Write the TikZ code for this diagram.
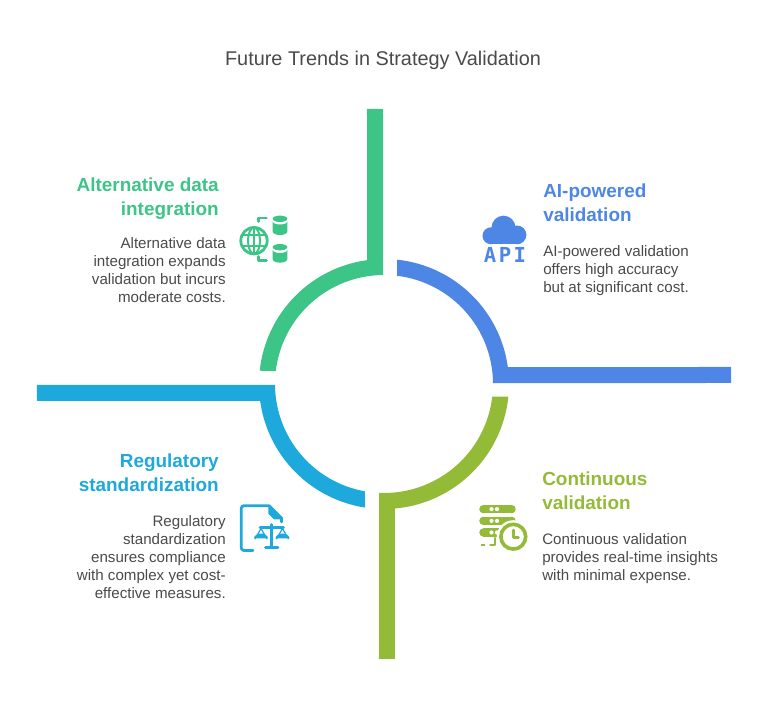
\documentclass[tikz,border=0pt]{standalone}
\usepackage{fontspec}
\setmainfont{Liberation Sans}
\newfontfamily\apifont[LetterSpace=12]{DejaVu Sans Mono}

\definecolor{bandgreen}{HTML}{3DC587}
\definecolor{bandblue}{HTML}{4D86E5}
\definecolor{bandsky}{HTML}{1DA9DB}
\definecolor{bandlime}{HTML}{94BB37}
\definecolor{bodygrey}{HTML}{4A4A4A}

\tikzset{
    headtext/.style={font=\bfseries\fontsize{14.2pt}{18pt}\selectfont, inner sep=0pt},
    bodytext/.style={font=\fontsize{11.35pt}{13.5pt}\selectfont, text=bodygrey, inner sep=0pt},
    stroked/.style={line width=2.1pt, line cap=round, line join=round, fill=none},
    thinstroked/.style={line width=1.5pt, line cap=round, line join=round, fill=none}
}

\begin{document}
\begin{tikzpicture}[x=0.75pt, y=0.75pt]
    \useasboundingbox (-384,-336) rectangle (384,384);

    % Title
    \node[font=\fontsize{14.9pt}{18pt}\selectfont, text=bodygrey, inner sep=0pt] (title) at (-1,323.5) {Future Trends in Strategy Validation};

    %% Four bands around the centre
    % Green band
    \fill[bandgreen] (-17,275) -- (97.8:125) arc[start angle=97.8, end angle=173.9, radius=125]
    -- (173.15:109) arc[start angle=173.15, end angle=90.5, radius=109] -- (-1,275) -- cycle;

    % Blue band
    \fill[bandblue] (84:125) arc[start angle=84, end angle=7.8, radius=125] -- (347,17) -- (347,1)
    -- (0.5:109) arc[start angle=0.5, end angle=83.15, radius=109] -- cycle;

    % Sky band
    \fill[bandsky] (-347,-1) -- (180.5:109) arc[start angle=180.5, end angle=259.96, radius=109]
    -- (261.26:125) arc[start angle=261.26, end angle=187.8, radius=125] -- (-347,-17) -- cycle;

    % Lime band
    \fill[bandlime] (-5,-275) -- (267.4:109) arc[start angle=267.4, end angle=353.3, radius=109]
    -- (-5.8:125) arc[start angle=-5.8, end angle=-85, radius=125] -- (11,-275) -- cycle;

    %% Texts
    % Green quadrant
    \node[headtext, text=bandgreen, anchor=east, align=right] (greenhead) at (-165,185) {Alternative data\\integration};
    \node[bodytext, anchor=east, align=right] (greenbody) at (-158,114) {Alternative data\\integration expands\\validation but incurs\\moderate costs.};

    % Blue quadrant
    \node[headtext, text=bandblue, anchor=west, align=left] (bluehead) at (159,181) {AI-powered\\validation};
    \node[bodytext, anchor=west, align=left] (bluebody) at (159,113) {AI-powered validation\\offers high accuracy\\but at significant cost.};

    % Sky quadrant
    \node[headtext, text=bandsky, anchor=east, align=right] (skyhead) at (-165,-89) {Regulatory\\standardization};
    \node[bodytext, anchor=east, align=right] (skybody) at (-158,-173) {Regulatory\\standardization\\ensures compliance\\with complex yet cost-\\effective measures.};

    % Lime quadrant
    \node[headtext, text=bandlime, anchor=west, align=left] (limehead) at (158,-107) {Continuous\\validation};
    \node[bodytext, anchor=west, align=left] (limebody) at (158,-175) {Continuous validation\\provides real-time insights\\with minimal expense.};

    %% Icons
    % Globe and databases
    \begin{scope}[shift={(-154,184)}, yscale=-1]
        \draw[bandgreen, stroked] (24,40.7) circle (13.2);
        \draw[bandgreen, thinstroked] (24,40.7) ellipse (6 and 13.2);
        \draw[bandgreen, thinstroked] (24,27.5) -- (24,53.9);
        \draw[bandgreen, thinstroked] (12,35) -- (36,35);
        \draw[bandgreen, thinstroked] (12,46.4) -- (36,46.4);
        \draw[bandgreen, stroked] (28.5,21.5) -- (28.5,18) -- (36.5,18);
        \draw[bandgreen, stroked] (28.5,56.5) -- (28.5,60.5) -- (36.5,60.5);
        \fill[bandgreen] (50,18.8) ellipse (7.3 and 3.2);
        \fill[bandgreen] (42.7,21.5) -- (42.7,31.5) arc[start angle=180, end angle=360, x radius=7.3, y radius=-3.5] -- (57.3,21.5) arc[start angle=0, end angle=180, x radius=7.3, y radius=3] -- cycle;
        \fill[bandgreen] (50,47.2) ellipse (7.3 and 3.2);
        \fill[bandgreen] (42.7,50) -- (42.7,59.2) arc[start angle=180, end angle=360, x radius=7.3, y radius=-3.5] -- (57.3,50) arc[start angle=0, end angle=180, x radius=7.3, y radius=3] -- cycle;
    \end{scope}

    % Cloud
    \begin{scope}[shift={(86,179)}, yscale=-1]
        \fill[bandblue] (21,30.8) circle (8.5);
        \fill[bandblue] (33.5,22.7) circle (12);
        \fill[bandblue] (47,29.9) circle (9.4);
        \fill[bandblue] (21,28) rectangle (47,39.3);
    \end{scope}
    \node[font=\apifont\bfseries\fontsize{15.5pt}{16pt}\selectfont, text=bandblue, inner sep=0pt] (apilabel) at (121,129) {API};

    % Document with scales
    \begin{scope}[shift={(-154,-111)}, yscale=-1]
        \draw[bandsky, stroked] (23,55.5) -- (14,55.5) arc[start angle=270, end angle=180, x radius=2.8, y radius=-2.8] -- (11.2,13.5) arc[start angle=180, end angle=90, x radius=2.8, y radius=-2.8] -- (39,10.7) -- (51.5,23) -- (51.5,27);
        \fill[bandsky] (38.5,10.5) -- (52.5,24.5) -- (44,24.5) -- (38.5,19) -- cycle;
        \draw[bandsky, stroked] (41.7,29.5) -- (41.7,52.5);
        \draw[bandsky, stroked] (30,32.5) -- (53.5,32.5);
        \draw[bandsky, stroked] (35.5,52.5) -- (48,52.5);
        \draw[bandsky, line width=0.9pt, line join=round] (25,44) -- (31,33.5) -- (37,44);
        \draw[bandsky, line width=0.9pt, line join=round] (46.5,44) -- (52.5,33.5) -- (58.5,44);
        \fill[bandsky] (24,43.5) -- (38,43.5) arc[start angle=0, end angle=180, x radius=7, y radius=-5] -- cycle;
        \fill[bandsky] (45.5,43.5) -- (59.5,43.5) arc[start angle=0, end angle=180, x radius=7, y radius=-5] -- cycle;
    \end{scope}

    % Servers with clock
    \begin{scope}[shift={(86,-111)}, yscale=-1]
        \fill[bandlime] (13.4,10) rectangle (41.6,18.3);
        \fill[bandlime] (13.4,14.15) circle (4.15);
        \fill[bandlime] (41.6,14.15) circle (4.15);
        \fill[bandlime] (13.4,21.7) rectangle (41.6,30);
        \fill[bandlime] (13.4,25.85) circle (4.15);
        \fill[bandlime] (41.6,25.85) circle (4.15);
        \fill[bandlime] (13.4,33.3) rectangle (31,41.7);
        \fill[bandlime] (13.4,37.5) circle (4.15);
        \foreach \rowy in {14.15,25.85,37.5} {
            \fill[white] (21.5,\rowy) circle (2.1);
            \fill[white] (27,\rowy) circle (2.1);
        }
        \fill[white] (43.3,41.7) circle (16.5);
        \draw[bandlime, line width=2.7pt] (43.3,41.7) circle (12.4);
        \draw[bandlime, stroked] (43.3,35) -- (43.3,42.5) -- (48.5,42.5);
        \draw[bandlime, stroked] (25,43) -- (25,50) -- (20.5,50);
        \fill[bandlime] (11,48.7) rectangle (15,51.3);
    \end{scope}

\end{tikzpicture}
\end{document}
